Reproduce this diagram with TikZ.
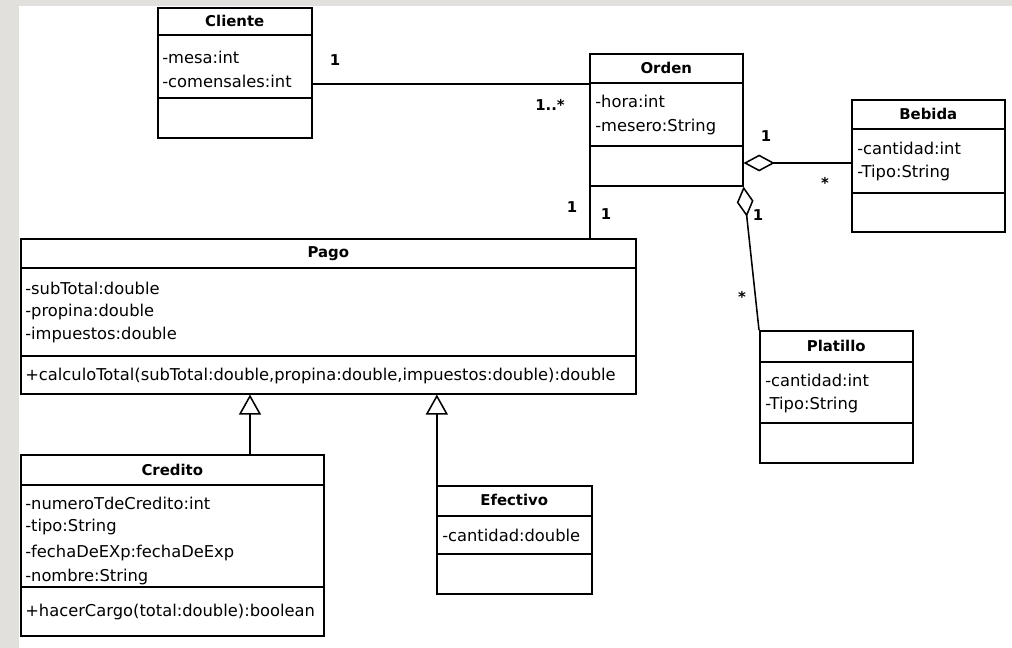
\documentclass[tikz,border=0pt]{standalone}
\usepackage{fontspec}
\setmainfont{DejaVu Sans}
\usepackage{xcolor}
\usepackage{tikz}
\usetikzlibrary{arrows.meta, positioning}

\definecolor{slidegray}{RGB}{226,224,220}

\begin{document}
\begin{tikzpicture}[x=0.025cm, y=-0.025cm,
    box/.style 2 args={draw, line width=1.1pt, anchor=north west, inner sep=0pt,
        minimum width=#1*0.025cm, minimum height=#2*0.025cm},
    sep/.style={line width=1.1pt},
    title/.style={font=\fontsize{10.6}{12}\selectfont\bfseries, inner sep=0pt},
    attr/.style={font=\fontsize{11.6}{13}\selectfont, anchor=west, inner sep=0pt},
    mult/.style={font=\fontsize{10.6}{12}\selectfont\bfseries, inner sep=0pt},
    conn/.style={line width=1.1pt}]
    % Background
    \fill[slidegray] (0,0) rectangle (1012,648);
    \fill[white] (19,6) rectangle (1012,648);

    % Cliente
    \node[box={154}{130}] (cliente) at (157,7) {};
    \draw[sep] (cliente.west |- 0,35) -- (cliente.east |- 0,35);
    \draw[sep] (cliente.west |- 0,98) -- (cliente.east |- 0,98);
    \node[title] (cliente-t) at (cliente.north |- 0,21) {Cliente};
    \node[attr] (cliente-a1) at (162,57) {-mesa:int};
    \node[attr] (cliente-a2) at (162,81) {-comensales:int};

    % Orden
    \node[box={153}{132}] (orden) at (589,53) {};
    \draw[sep] (orden.west |- 0,83) -- (orden.east |- 0,83);
    \draw[sep] (orden.west |- 0,146) -- (orden.east |- 0,146);
    \node[title] (orden-t) at (orden.north |- 0,68) {Orden};
    \node[attr] (orden-a1) at (595,101) {-hora:int};
    \node[attr] (orden-a2) at (595,127) {-mesero:String};

    % Bebida
    \node[box={153}{132}] (bebida) at (851,99) {};
    \draw[sep] (bebida.west |- 0,129) -- (bebida.east |- 0,129);
    \draw[sep] (bebida.west |- 0,193) -- (bebida.east |- 0,193);
    \node[title] (bebida-t) at (bebida.north |- 0,114) {Bebida};
    \node[attr] (bebida-a1) at (857,148) {-cantidad:int};
    \node[attr] (bebida-a2) at (857,173) {-Tipo:String};

    % Platillo
    \node[box={153}{132}] (platillo) at (759,330) {};
    \draw[sep] (platillo.west |- 0,362) -- (platillo.east |- 0,362);
    \draw[sep] (platillo.west |- 0,423) -- (platillo.east |- 0,423);
    \node[title] (platillo-t) at (platillo.north |- 0,346) {Platillo};
    \node[attr] (platillo-a1) at (765,380) {-cantidad:int};
    \node[attr] (platillo-a2) at (765,405) {-Tipo:String};

    % Pago
    \node[box={615}{155}] (pago) at (20,238) {};
    \draw[sep] (pago.west |- 0,268) -- (pago.east |- 0,268);
    \draw[sep] (pago.west |- 0,356) -- (pago.east |- 0,356);
    \node[title] (pago-t) at (pago.north |- 0,254) {Pago};
    \node[attr] (pago-a1) at (25,288) {-subTotal:double};
    \node[attr] (pago-a2) at (25,312) {-propina:double};
    \node[attr] (pago-a3) at (25,335) {-impuestos:double};
    \node[attr] (pago-m1) at (25,376) {+calculoTotal(subTotal:double,propina:double,impuestos:double):double};

    % Credito
    \node[box={303}{181}] (credito) at (20,454) {};
    \draw[sep] (credito.west |- 0,485) -- (credito.east |- 0,485);
    \draw[sep] (credito.west |- 0,587) -- (credito.east |- 0,587);
    \node[title] (credito-t) at (credito.north |- 0,470) {Credito};
    \node[attr] (credito-a1) at (25,503) {-numeroTdeCredito:int};
    \node[attr] (credito-a2) at (25,527) {-tipo:String};
    \node[attr] (credito-a3) at (25,553) {-fechaDeEXp:fechaDeExp};
    \node[attr] (credito-a4) at (25,577) {-nombre:String};
    \node[attr] (credito-m1) at (25,612) {+hacerCargo(total:double):boolean};

    % Efectivo
    \node[box={155}{108}] (efectivo) at (436,485) {};
    \draw[sep] (efectivo.west |- 0,516) -- (efectivo.east |- 0,516);
    \draw[sep] (efectivo.west |- 0,554) -- (efectivo.east |- 0,554);
    \node[title] (efectivo-t) at (efectivo.north |- 0,500) {Efectivo};
    \node[attr] (efectivo-a1) at (442,535) {-cantidad:double};

    % Associations
    \draw[conn] (cliente.east |- 0,84) -- (orden.west |- 0,84);
    \draw[conn, {Diamond[open, length=0.78cm, width=0.42cm]}-]
        (orden.east |- 0,163) -- (bebida.west |- 0,163);
    \draw[conn, {Diamond[open, length=0.76cm, width=0.42cm]}-]
        (orden.south east) -- (platillo.north west);
    \draw[conn] ([xshift=0.6pt]orden.south west) -- ([xshift=0.6pt]orden.south west |- pago.north);

    % Inheritance
    \coordinate (credito-top) at (250,454);
    \draw[conn, -{Triangle[open, length=0.5cm, width=0.55cm]}]
        (credito-top) -- (credito-top |- pago.south);
    \draw[conn, -{Triangle[open, length=0.5cm, width=0.55cm]}]
        ([xshift=0.6pt]efectivo.north west) -- ([xshift=0.6pt]efectivo.north west |- pago.south);

    % Multiplicities
    \node[mult] (m-cliente) at (335,60) {1};
    \node[mult] (m-orden1) at (550,105) {1..*};
    \node[mult] (m-bebida1) at (766,136) {1};
    \node[mult] (m-bebida2) at (825,183) {*};
    \node[mult] (m-plat1) at (758,215) {1};
    \node[mult] (m-plat2) at (742,297) {*};
    \node[mult] (m-pago) at (572,207) {1};
    \node[mult] (m-orden2) at (606,214) {1};
\end{tikzpicture}
\end{document}
